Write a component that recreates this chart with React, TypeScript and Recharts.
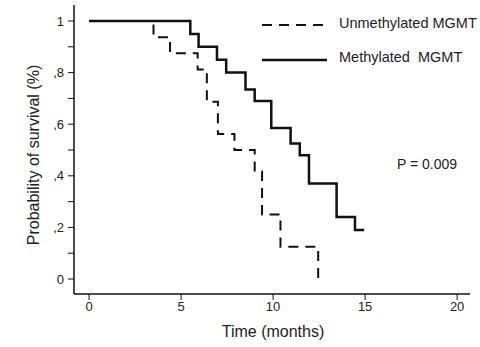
import { LineChart, Line, XAxis, YAxis } from "recharts";

// Kaplan-Meier steps (time in months, survival proportion)
const unmethTime = [0, 3.5, 4.4, 5.9, 6.4, 7.0, 7.9, 9.0, 9.4, 10.4, 12.45];
const unmethSurv = [1, 0.9375, 0.875, 0.8125, 0.6875, 0.5625, 0.5, 0.4167, 0.25, 0.125, 0];

const methTime = [0, 5.5, 5.95, 6.95, 7.45, 8.5, 9.0, 9.9, 10.95, 11.45, 11.95, 13.45, 14.45, 14.95];
const methSurv = [1, 0.95, 0.9, 0.85, 0.8, 0.735, 0.69, 0.585, 0.525, 0.48, 0.37, 0.24, 0.19, 0.19];

const xTicks = [0, 5, 10, 15, 20];
const yTicks = [0, 0.1, 0.2, 0.3, 0.4, 0.5, 0.6, 0.7, 0.8, 0.9, 1];
const yLabels: Record<string, string> = { "0": "0", "0.2": ",2", "0.4": ",4", "0.6": ",6", "0.8": ",8", "1": "1" };

const unmeth = unmethTime.map((t, i) => ({ t, s: unmethSurv[i] }));
const meth = methTime.map((t, i) => ({ t, s: methSurv[i] }));

const font = "'Liberation Sans', Arial, sans-serif";

function LegendBox() {
  return (
    <svg width={230} height={60} style={{ display: "block" }}>
      <line x1={4} y1={11} x2={69} y2={11} stroke="#111" strokeWidth={2} strokeDasharray="10 7" />
      <text x={81} y={9} dominantBaseline="central" fontSize={14.5} fill="#222" fontFamily={font}>
        Unmethylated MGMT
      </text>
      <line x1={4} y1={46} x2={69} y2={46} stroke="#111" strokeWidth={2.5} />
      <text x={81} y={43} dominantBaseline="central" fontSize={14.5} fill="#222" fontFamily={font} style={{ whiteSpace: "pre" }}>
        {"Methylated  MGMT"}
      </text>
    </svg>
  );
}

export default function App() {
  return (
    <div style={{ position: "fixed", left: 0, top: 0, width: 480, height: 347, background: "#fff" }}>
      <LineChart width={480} height={347} margin={{ top: 5, right: 10, left: 0, bottom: 23 }}>
        <XAxis
          type="number"
          dataKey="t"
          height={30}
          domain={[-0.82, 20.7]}
          ticks={xTicks}
          allowDataOverflow
          axisLine={{ stroke: "#111", strokeWidth: 1.5 }}
          tickLine={{ stroke: "#111" }}
          tickSize={6}
          tickMargin={2}
          tick={{ fill: "#222", fontSize: 13, fontFamily: font }}
          label={() => (
            <text x={273} y={331} textAnchor="middle" dominantBaseline="central" fontSize={16} fill="#222" fontFamily={font}>
              Time (months)
            </text>
          )}
        />
        <YAxis
          type="number"
          dataKey="s"
          width={74}
          domain={[-0.058, 1.062]}
          ticks={yTicks}
          allowDataOverflow
          interval={0}
          axisLine={{ stroke: "#111", strokeWidth: 1.5 }}
          tickLine={{ stroke: "#111" }}
          tickSize={6}
          tickMargin={4}
          tickFormatter={(v: number) => yLabels[String(Math.round(v * 10) / 10)] ?? ""}
          tick={{ fill: "#222", fontSize: 13, fontFamily: font }}
          label={() => (
            <text
              x={33}
              y={155}
              transform="rotate(-90, 33, 155)"
              textAnchor="middle"
              dominantBaseline="central"
              fontSize={16}
              fill="#222"
              fontFamily={font}
            >
              Probability of survival (%)
            </text>
          )}
        />
        <Line
          data={unmeth}
          dataKey="s"
          type="stepAfter"
          stroke="#111"
          strokeWidth={2}
          strokeDasharray="10 7"
          dot={false}
          isAnimationActive={false}
        />
        <Line
          data={meth}
          dataKey="s"
          type="stepAfter"
          stroke="#111"
          strokeWidth={2.5}
          dot={false}
          isAnimationActive={false}
        />
      </LineChart>
      <div style={{ position: "absolute", left: 258, top: 14 }}>
        <LegendBox />
      </div>
      <div style={{ position: "absolute", left: 397, top: 156, fontSize: 14, fontFamily: font, color: "#222" }}>
        P = 0.009
      </div>
    </div>
  );
}
